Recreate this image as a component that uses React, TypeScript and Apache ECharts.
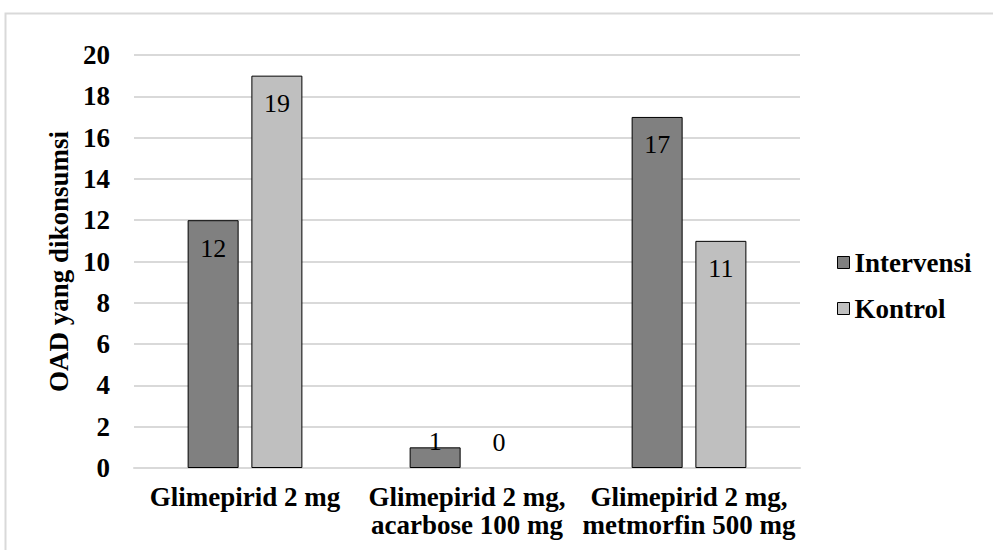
import React, { useEffect, useRef } from "react";
import * as echarts from "echarts";

const categories = ["Glimepirid 2 mg", "Glimepirid 2 mg,\nacarbose 100 mg", "Glimepirid 2 mg,\nmetmorfin 500 mg"];
const intervensi = [12, 1, 17];
const kontrol = [19, 0, 11];
const seriesNames = ["Intervensi", "Kontrol"];
const yAxisName = "OAD yang dikonsumsi";

const FONT = "'Liberation Serif', 'Times New Roman', serif";

function buildData(values: number[]) {
  return values.map((v) => {
    if (v <= 1) {
      return {
        value: v,
        itemStyle: v === 0 ? { borderWidth: 0 } : undefined,
        label: { position: "top", distance: v === 0 ? 13 : -7 },
      };
    }
    return v;
  });
}

export default function App() {
  const ref = useRef<HTMLDivElement>(null);
  useEffect(() => {
    document.body.style.margin = "0";
    const chart = echarts.init(ref.current!, null, { renderer: "svg" });
    const labelStyle = {
      show: true,
      position: "insideTop",
      distance: 15,
      color: "#000",
      fontFamily: FONT,
      fontSize: 26,
    };
    chart.setOption({
      animation: false,
      backgroundColor: "#fff",
      graphic: [
        {
          type: "rect",
          shape: { x: 5.5, y: 13.5, width: 1000, height: 600 },
          style: { fill: "none", stroke: "#d9d9d9", lineWidth: 2 },
          silent: true,
          z: -10,
        },
      ],
      grid: { left: 134, right: 193, top: 55, bottom: 82 },
      legend: {
        orient: "vertical",
        left: 832,
        top: 244,
        itemWidth: 12,
        itemHeight: 12,
        itemGap: 19,
        itemWidth: 12,
        icon: "rect",
        textStyle: { fontFamily: FONT, fontSize: 27, fontWeight: "bold", color: "#000" },
        itemStyle: { borderColor: "#000", borderWidth: 1 },
        data: seriesNames,
      },
      xAxis: {
        type: "category",
        data: categories,
        axisLine: { show: true, lineStyle: { color: "#d9d9d9", width: 2 } },
        axisTick: { show: false },
        axisLabel: {
          fontFamily: FONT,
          fontSize: 27,
          fontWeight: "bold",
          color: "#000",
          lineHeight: 28,
          margin: 15,
          interval: 0,
        },
      },
      yAxis: {
        type: "value",
        min: 0,
        max: 20,
        interval: 2,
        name: yAxisName,
        nameLocation: "middle",
        nameGap: 62,
        nameTextStyle: { fontFamily: FONT, fontSize: 27, fontWeight: "bold", color: "#000" },
        axisLine: { show: false },
        axisTick: { show: false },
        splitLine: { lineStyle: { color: "#d9d9d9", width: 2 } },
        axisLabel: { fontFamily: FONT, fontSize: 27, fontWeight: "bold", color: "#000", margin: 24 },
      },
      series: [
        {
          name: seriesNames[0],
          type: "bar",
          data: buildData(intervensi),
          barWidth: 51,
          barGap: "25%",
          itemStyle: { color: "#808080", borderColor: "#000", borderWidth: 1 },
          label: labelStyle,
        },
        {
          name: seriesNames[1],
          type: "bar",
          data: buildData(kontrol),
          barWidth: 51,
          barGap: "25%",
          itemStyle: { color: "#bfbfbf", borderColor: "#000", borderWidth: 1 },
          label: labelStyle,
        },
      ],
    });
    return () => chart.dispose();
  }, []);
  return <div ref={ref} style={{ width: 993, height: 550 }} />;
}
